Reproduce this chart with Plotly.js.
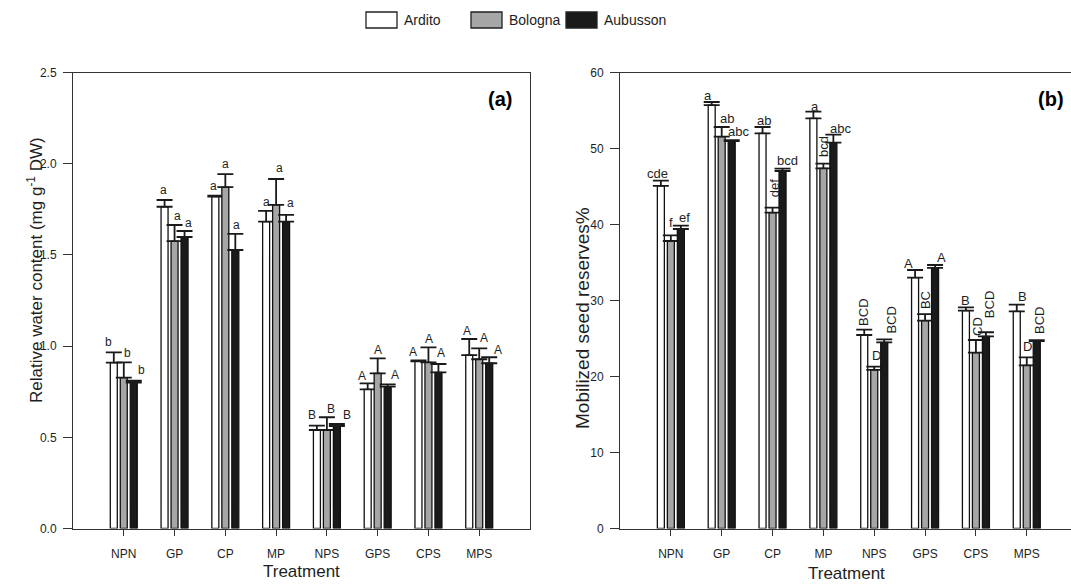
<!DOCTYPE html>
<html>
<head>
<meta charset="utf-8">
<script src="https://cdn.plot.ly/plotly-3.0.1.min.js"></script>
<style>html,body{margin:0;padding:0;background:#fff;}#chart{width:1071px;height:584px;}</style>
</head>
<body>
<div id="chart"></div>
<script>
// ---------- data ----------
var categories = ['NPN', 'GP', 'CP', 'MP', 'NPS', 'GPS', 'CPS', 'MPS'];
var seriesNames = ['Ardito', 'Bologna', 'Aubusson'];

// (a) Relative water content
var arditoRWC      = [0.909, 1.764, 1.819, 1.682, 0.540, 0.763, 0.917, 0.950];
var arditoRWCErr   = [0.057, 0.037, 0.006, 0.059, 0.024, 0.033, 0.005, 0.089];
var bolognaRWC     = [0.827, 1.576, 1.872, 1.774, 0.540, 0.851, 0.911, 0.928];
var bolognaRWCErr  = [0.084, 0.088, 0.071, 0.142, 0.070, 0.082, 0.082, 0.060];
var aubussonRWC    = [0.800, 1.598, 1.527, 1.682, 0.562, 0.778, 0.856, 0.906];
var aubussonRWCErr = [0.010, 0.033, 0.088, 0.037, 0.011, 0.012, 0.046, 0.033];

var arditoRWCLetters   = ['b', 'a', 'a', 'a', 'B', 'A', 'A', 'A'];
var bolognaRWCLetters  = ['b', 'a', 'a', 'a', 'B', 'A', 'A', 'A'];
var aubussonRWCLetters = ['b', 'a', 'a', 'a', 'B', 'A', 'A', 'A'];

// (b) Mobilized seed reserves %
var arditoMSR      = [45.07, 55.72, 52.00, 53.97, 25.46, 33.00, 28.66, 28.58];
var arditoMSRErr   = [0.70, 0.40, 0.83, 0.87, 0.70, 1.01, 0.44, 0.87];
var bolognaMSR     = [37.83, 51.55, 41.55, 47.39, 20.86, 27.34, 23.13, 21.47];
var bolognaMSRErr  = [0.74, 1.28, 0.66, 0.61, 0.43, 0.88, 1.67, 1.05];
var aubussonMSR    = [39.41, 50.99, 47.04, 50.77, 24.50, 34.28, 25.28, 24.67];
var aubussonMSRErr = [0.44, 0.10, 0.31, 1.05, 0.39, 0.39, 0.54, 0.10];

var arditoMSRLetters   = ['cde', 'a', 'ab', 'a', 'BCD', 'A', 'B', 'B'];
var bolognaMSRLetters  = ['f', 'ab', 'def', 'bcd', 'D', 'BC', 'CD', 'D'];
var aubussonMSRLetters = ['ef', 'abc', 'bcd', 'abc', 'BCD', 'A', 'BCD', 'BCD'];

// ---------- label placement (px offsets from top of error bar) ----------
var rwcShiftX = [[-5, -1, -2, 0, -5, -6, -5, -2], [4, 3, 0, 3, 4, 0, 1, 5], [8, 4, 1, 4, 10, 7, 3, 9]];
var rwcShiftY = [[10, 10, 10, 9, 11, 7, 8, 8], [9, 9, 10, 11, 8, 8, 8, 10], [11, 8, 9, 12, 9, 9, 11, 7]];
var msrShiftX = [[-3, -4, 1, 2, -1, -7, 0, 6], [0, 5, 2, 0, 2, 0, 1, 1], [4, 7, 5, 7, 7, 6, 3, 2]];
var msrShiftY = [[7, 6, 6, 5, 17, 7, 7, 8], [13, 8, 19, 17, 11, 14, 14, 11], [8, 9, 8, 6, 19, 8, 28, 20]];
var msrRotated = [[false, false, false, false, true, false, false, false],
                  [false, false, true, true, false, true, true, false],
                  [false, false, false, false, true, false, true, true]];

// ---------- styling ----------
var W = 1071, H = 584;
var FONT = 'Liberation Sans, Arial, Helvetica, sans-serif';
var fills = ['#ffffff', '#a6a6a6', '#1a1a1a'];
var AX = '#333333';
var TXT = '#1e1e1e';
function px(x) { return x / W; }
function py(y) { return 1 - y / H; }

var yDomain = [py(528.5), py(72.5)];
var slot = 0.1965;   // bar slot width in category units

var zeros = categories.map(function () { return 0; });

function barTrace(name, vals, errs, k, xa, ya) {
  return {
    type: 'bar', name: name, x: categories, y: vals,
    xaxis: xa, yaxis: ya, showlegend: false,
    marker: { color: fills[k], line: { color: '#111', width: 1.3 } },
    error_y: { type: 'data', symmetric: false, array: errs, arrayminus: zeros,
               color: '#1a1a1a', thickness: 1.8, width: 8 },
    hoverinfo: 'x+y'
  };
}

var rwcVals = [arditoRWC, bolognaRWC, aubussonRWC];
var rwcErrs = [arditoRWCErr, bolognaRWCErr, aubussonRWCErr];
var rwcLet  = [arditoRWCLetters, bolognaRWCLetters, aubussonRWCLetters];
var msrVals = [arditoMSR, bolognaMSR, aubussonMSR];
var msrErrs = [arditoMSRErr, bolognaMSRErr, aubussonMSRErr];
var msrLet  = [arditoMSRLetters, bolognaMSRLetters, aubussonMSRLetters];

var data = [];
for (var k = 0; k < 3; k++) data.push(barTrace(seriesNames[k], rwcVals[k], rwcErrs[k], k, 'x', 'y'));
for (var k2 = 0; k2 < 3; k2++) data.push(barTrace(seriesNames[k2], msrVals[k2], msrErrs[k2], k2, 'x2', 'y2'));

var annotations = [];
for (var s = 0; s < 3; s++) {
  for (var i = 0; i < categories.length; i++) {
    annotations.push({
      xref: 'x', yref: 'y', x: i + (s - 1) * slot, y: rwcVals[s][i] + rwcErrs[s][i],
      text: rwcLet[s][i], showarrow: false, xanchor: 'center', yanchor: 'middle',
      xshift: rwcShiftX[s][i], yshift: rwcShiftY[s][i],
      font: { family: FONT, size: 12, color: TXT }
    });
    var rot = msrRotated[s][i];
    annotations.push({
      xref: 'x2', yref: 'y2', x: i + (s - 1) * slot, y: msrVals[s][i] + msrErrs[s][i],
      text: msrLet[s][i], showarrow: false, xanchor: 'center', yanchor: 'middle',
      textangle: rot ? -90 : 0,
      xshift: msrShiftX[s][i], yshift: msrShiftY[s][i],
      font: { family: FONT, size: 13, color: TXT }
    });
  }
}

// panel tags
annotations.push({ xref: 'paper', yref: 'paper', x: px(500), y: py(99), text: '<b>(a)</b>',
  showarrow: false, xanchor: 'center', yanchor: 'middle', font: { family: FONT, size: 20, color: '#000' } });
annotations.push({ xref: 'paper', yref: 'paper', x: px(1051), y: py(99), text: '<b>(b)</b>',
  showarrow: false, xanchor: 'center', yanchor: 'middle', font: { family: FONT, size: 20, color: '#000' } });

// axis titles
annotations.push({ xref: 'paper', yref: 'paper', x: px(301), y: py(571), text: 'Treatment',
  showarrow: false, xanchor: 'center', yanchor: 'middle', font: { family: FONT, size: 17, color: TXT } });
annotations.push({ xref: 'paper', yref: 'paper', x: px(846), y: py(573), text: 'Treatment',
  showarrow: false, xanchor: 'center', yanchor: 'middle', font: { family: FONT, size: 17, color: TXT } });
annotations.push({ xref: 'paper', yref: 'paper', x: px(35), y: py(270),
  text: 'Relative water content (mg g<sup>-1</sup> DW)', textangle: -90,
  showarrow: false, xanchor: 'center', yanchor: 'middle', font: { family: FONT, size: 17, color: TXT } });
annotations.push({ xref: 'paper', yref: 'paper', x: px(582), y: py(318),
  text: 'Mobilized seed reserves%', textangle: -90,
  showarrow: false, xanchor: 'center', yanchor: 'middle', font: { family: FONT, size: 19, color: TXT } });

// legend (drawn)
var legBoxX = [366, 471, 566];
var legBoxW = 31, legTop = 12, legBot = 28;
var shapes = [];
for (var j = 0; j < 3; j++) {
  shapes.push({ type: 'rect', xref: 'paper', yref: 'paper',
    x0: px(legBoxX[j]), x1: px(legBoxX[j] + legBoxW), y0: py(legBot), y1: py(legTop),
    fillcolor: fills[j], line: { color: '#222', width: 1.3 } });
  annotations.push({ xref: 'paper', yref: 'paper', x: px(legBoxX[j] + legBoxW + 5), y: py(20),
    text: seriesNames[j], showarrow: false, xanchor: 'left', yanchor: 'middle',
    font: { family: FONT, size: 14, color: TXT } });
}

function xAxis(domain, range, anchor) {
  return {
    domain: domain, anchor: anchor, type: 'category',
    categoryorder: 'array', categoryarray: categories,
    range: range, automargin: false,
    showline: true, linecolor: AX, linewidth: 1, mirror: true,
    ticks: 'outside', ticklen: 6, tickcolor: AX, tickwidth: 1,
    ticklabelstandoff: 8,
    tickfont: { family: FONT, size: 12, color: TXT },
    showgrid: false, zeroline: false, fixedrange: true
  };
}
function yAxis(range, dtick, fmt, anchor) {
  return {
    domain: yDomain, anchor: anchor, range: range, dtick: dtick, tick0: 0,
    tickformat: fmt, automargin: false,
    showline: true, linecolor: AX, linewidth: 1, mirror: true,
    ticks: 'outside', ticklen: 9, tickcolor: AX, tickwidth: 1,
    ticklabelstandoff: 4,
    tickfont: { family: FONT, size: 12, color: TXT },
    showgrid: false, zeroline: false, fixedrange: true
  };
}

var layout = {
  width: W, height: H,
  margin: { l: 0, r: 0, t: 0, b: 0, pad: 0 },
  paper_bgcolor: '#fff', plot_bgcolor: '#fff',
  showlegend: false,
  barmode: 'group', bargap: 0.41, bargroupgap: 0.3,
  xaxis: xAxis([px(73), px(530)], [-1, 8], 'y'),
  yaxis: yAxis([0, 2.5], 0.5, '.1f', 'x'),
  xaxis2: xAxis([px(620), 1], [-1, 7.87], 'y2'),
  yaxis2: yAxis([0, 60], 10, 'd', 'x2'),
  annotations: annotations,
  shapes: shapes
};

Plotly.newPlot('chart', data, layout, { displayModeBar: false, staticPlot: true });
</script>
</body>
</html>
